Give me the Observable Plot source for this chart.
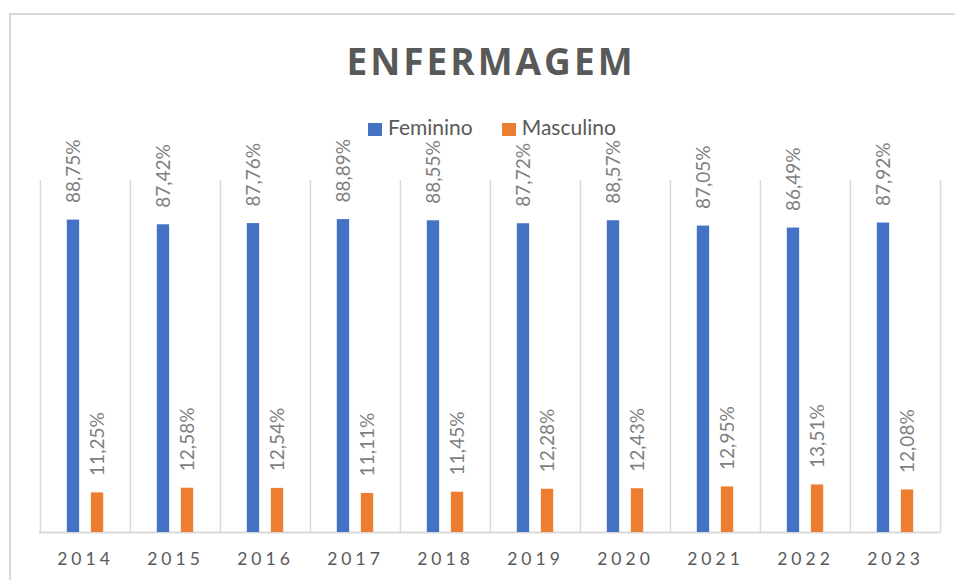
<!DOCTYPE html>
<html>
<head>
<meta charset="utf-8">
<script src="https://cdn.jsdelivr.net/npm/d3@7"></script>
<script src="https://cdn.jsdelivr.net/npm/@observablehq/plot@0.6"></script>
<style>
  html, body { margin: 0; padding: 0; background: #fff; width: 955px; height: 580px; overflow: hidden; }
  #frame { position: absolute; left: 9px; top: 13px; width: 1000px; height: 1000px;
           border-left: 2px solid #d9d9d9; border-top: 2px solid #d9d9d9; box-sizing: border-box; }
  #title { position: absolute; left: 0; top: 41.5px; width: 982px; text-align: center;
           font-family: "Open Sans", sans-serif; font-weight: 700; font-size: 37px; line-height: 1;
           letter-spacing: 3px; color: #595959; }
  #legend { position: absolute; left: 368px; top: 115.5px; font-family: Lato, sans-serif;
            font-size: 21px; line-height: 1; color: #595959; white-space: nowrap; }
  #legend .item { display: inline-block; margin-right: 29px; }
  #legend .sw { display: inline-block; width: 14px; height: 13px; margin-right: 6px; vertical-align: -1px; }
  #chart { position: absolute; left: 0; top: 100px; }
  g[aria-label="x-axis tick label"] text { letter-spacing: 4px; }
</style>
</head>
<body>
<div id="frame"></div>
<div id="title">ENFERMAGEM</div>
<div id="legend"></div>
<div id="chart"></div>
<script>
const years = ["2014", "2015", "2016", "2017", "2018", "2019", "2020", "2021", "2022", "2023"];
const feminino = [88.75, 87.42, 87.76, 88.89, 88.55, 87.72, 88.57, 87.05, 86.49, 87.92];
const masculino = [11.25, 12.58, 12.54, 11.11, 11.45, 12.28, 12.43, 12.95, 13.51, 12.08];
const seriesNames = ["Feminino", "Masculino"];
const seriesColors = ["#4472c4", "#ed7d31"];

const fem = years.map((year, i) => ({year, value: feminino[i]}));
const mas = years.map((year, i) => ({year, value: masculino[i]}));
const fmt = v => v.toFixed(2).replace(".", ",") + "%";

// legend
const legend = document.getElementById("legend");
seriesNames.forEach((name, i) => {
  const item = document.createElement("span");
  item.className = "item";
  const sw = document.createElement("span");
  sw.className = "sw";
  sw.style.background = seriesColors[i];
  item.appendChild(sw);
  item.appendChild(document.createTextNode(name));
  legend.appendChild(item);
});

const W = 955, ML = 39, MR = 14.5;
const bw = (W - ML - MR) / years.length;
const grid = {y1: 0, y2: 100, stroke: "#d9d9d9", strokeWidth: 1.5};
const lblStyle = {rotate: -90, textAnchor: "start", dy: -17, fill: "#7f7f7f", fontSize: 19};

const chart = Plot.plot({
  width: W,
  height: 480,
  marginLeft: ML,
  marginRight: MR,
  marginTop: 80,
  marginBottom: 48,
  x: {domain: years, padding: 0, axis: null},
  y: {domain: [0, 100], axis: null},
  style: {fontFamily: "Lato, sans-serif", background: "transparent", overflow: "visible"},
  marks: [
    Plot.ruleX(years, {x: d => d, dx: -bw / 2, ...grid}),
    Plot.ruleX(years.slice(-1), {x: d => d, dx: bw / 2, ...grid}),
    Plot.ruleY([0], {stroke: "#d9d9d9", strokeWidth: 2}),
    Plot.barY(fem, {x: "year", y: "value", fill: seriesColors[0], insetLeft: 26.8, insetRight: 50.85}),
    Plot.barY(mas, {x: "year", y: "value", fill: seriesColors[1], insetLeft: 50.85, insetRight: 26.8}),
    Plot.text(fem, {x: "year", y: "value", text: d => fmt(d.value), dx: -12, ...lblStyle}),
    Plot.text(mas, {x: "year", y: "value", text: d => fmt(d.value), dx: 12, ...lblStyle}),
    Plot.axisX({tickSize: 0, tickPadding: 20, fontSize: 17.5, fill: "#595959", label: null})
  ]
});
document.getElementById("chart").appendChild(chart);
</script>
</body>
</html>
